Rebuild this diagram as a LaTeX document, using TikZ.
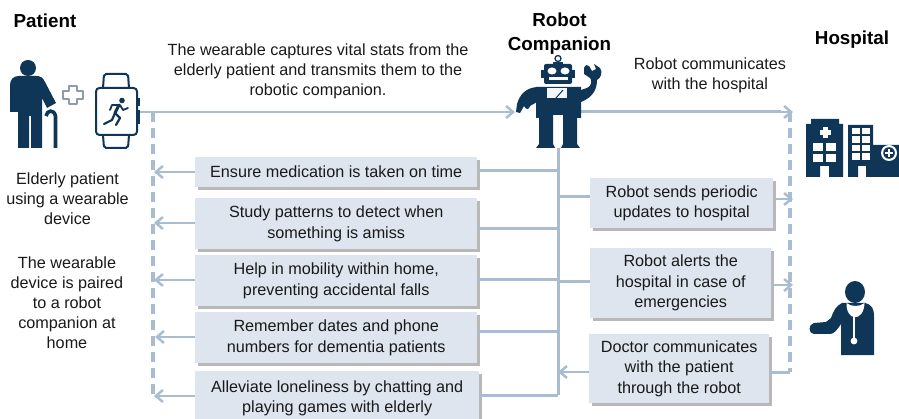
\documentclass[tikz,border=0pt]{standalone}
\usepackage{fontspec}
\setmainfont{Liberation Sans}
\usetikzlibrary{arrows.meta,shadows}
\definecolor{navy}{HTML}{0F3557}
\definecolor{lineblue}{HTML}{A9BDD2}
\definecolor{boxfill}{HTML}{DEE5EE}
\definecolor{plusgrey}{HTML}{8C9CAC}
\tikzset{
  x=1pt,y=-1pt,
  txt/.style={align=center,font=\fontsize{16.2}{20}\selectfont,text=black!90,inner sep=0pt},
  head/.style={align=center,font=\fontsize{18.8}{24}\selectfont\bfseries,text=black,inner sep=0pt},
  infobox/.style={fill=boxfill,inner sep=0pt,align=center,font=\fontsize{16.2}{20.5}\selectfont,text=black!90,
     anchor=north west,drop shadow={shadow xshift=2.5pt,shadow yshift=-2.5pt,fill=black!35,opacity=0.8}},
  conn/.style={draw=lineblue,line width=3pt},
  dashline/.style={draw=lineblue,line width=3.2pt,dash pattern=on 10pt off 6pt},
  arr/.style={draw=lineblue,line width=2.5pt,-{Straight Barb[length=7pt,width=12pt,line width=2.5pt]}},
  icon/.style={fill=navy,draw=none},
}
\newcommand{\ibox}[6]{\node[infobox,minimum width=#4pt-#2pt,minimum height=#5pt-#3pt] (#1) at (#2,#3) {#6};}
\begin{document}
\begin{tikzpicture}
\useasboundingbox (0,0) rectangle (899,419);
% headings
\node[head] (hp) at (45,21) {Patient};
\node[head] (hr) at (559.5,33.5) {Robot\\Companion};
\node[head] (hh) at (852,39.5) {Hospital};
% texts
\node[txt] (t1) at (318,71) {The wearable captures vital stats from the\\elderly patient and transmits them to the\\robotic companion.};
\node[txt] (t2) at (710,75) {Robot communicates\\with the hospital};
\node[txt] (t3) at (67.5,199) {Elderly patient\\using a wearable\\device};
\node[txt] (t4) at (67,303) {The wearable\\device is paired\\to a robot\\companion at\\home};
% coordinates
\coordinate (wr) at (140,112);
\coordinate (dl) at (153,112);
\coordinate (rl) at (515,112);
\coordinate (rr) at (578,112);
\coordinate (dr) at (790,112);
\coordinate (rb) at (558,148);
\coordinate (sb) at (558,395);
\coordinate (dbl) at (153,400);
\coordinate (dbr) at (790,372);
% connectors under boxes
\draw[arr] (wr) -- (rl);
\draw[conn] (rr) -- (781,112);
\draw[arr] (781,112) -- (793,112);
\draw[dashline] (dl) -- (dbl);
\draw[dashline] (dr) -- (dbr);
\draw[conn] (rb) -- (sb);
% boxes
\ibox{a1}{195}{157}{477}{187}{Ensure medication is taken on time}
\ibox{a2}{195}{198}{477}{249}{Study patterns to detect when\\something is amiss}
\ibox{a3}{195}{255}{477}{306}{Help in mobility within home,\\preventing accidental falls}
\ibox{a4}{195}{312}{477}{363}{Remember dates and phone\\numbers for dementia patients}
\ibox{a5}{195}{371}{479}{425}{Alleviate loneliness by chatting and\\playing games with elderly}
\ibox{b1}{590}{178}{773}{228}{Robot sends periodic\\updates to hospital}
\ibox{b2}{590}{248}{771}{318}{Robot alerts the\\hospital in case of\\emergencies}
\ibox{b3}{589}{334}{769}{403}{Doctor communicates\\with the patient\\through the robot}
% box connectors
\draw[conn] (a1.east |- 0,171) -- (558,171);
\draw[conn] (a2.east |- 0,229) -- (558,229);
\draw[conn] (a3.east |- 0,280) -- (558,280);
\draw[conn] (a4.east |- 0,332) -- (558,332);
\draw[conn,line join=round] (a5.east |- 0,395) -- (sb);
\draw[conn] (558,197) -- (b1.west |- 0,197);
\draw[conn] (558,282) -- (b2.west |- 0,282);
\draw[arr] (a1.west |- 0,172) -- (154,172);
\draw[arr] (a2.west |- 0,223) -- (154,223);
\draw[arr] (a3.west |- 0,280) -- (154,280);
\draw[arr] (a4.west |- 0,337) -- (155,337);
\draw[arr] (a5.west |- 0,396) -- (154,396);
\draw[arr] (b1.east |- 0,199) -- (793,199);
\draw[arr] (b2.east |- 0,285) -- (793,285);
\draw[conn] (b3.east |- 0,372) -- (dbr);
\draw[arr] (b3.west |- 0,372) -- (558,372);
% patient icon
\fill[navy] (28,68) circle (8);
\path[icon] (10,85) .. controls (10,79) and (14,76) .. (19,76) -- (38,76) .. controls (41,76) and (43,78) .. (45,82) -- (56,103) -- (47,108) -- (42,98) -- (42,148) -- (31,148) -- (31,116) -- (29,116) -- (29,148) -- (18,148) -- (18,112) -- (10,112) -- cycle;
\draw[navy,line width=3.6pt] (46,116) .. controls (47,110) and (54,109) .. (55.5,116) -- (55.5,148);
% plus
\draw[plusgrey,line width=2.2pt,fill=white,line join=round] (69,86) -- (77,86) -- (77,91) -- (83,91) -- (83,99) -- (77,99) -- (77,104) -- (69,104) -- (69,99) -- (63,99) -- (63,91) -- (69,91) -- cycle;
% watch
\draw[navy,line width=2pt,rounded corners=3.5pt] (96,88) rectangle (137,135);
\draw[navy,line width=2pt,rounded corners=2pt] (103,88) -- (104,74) -- (128,74) -- (129,88);
\draw[navy,line width=2pt,rounded corners=2pt] (103,135) -- (104,148) -- (128,148) -- (129,135);
\fill[navy] (137,98) rectangle (140,106);
\fill[navy] (137,110) rectangle (140,124);
\fill[navy] (122,100.5) circle (2.8);
\draw[navy,line width=3pt,line cap=round,line join=round] (119,105) -- (115,113);
\draw[navy,line width=2.2pt,line cap=round,line join=round] (115,113) -- (120,118) -- (116,125);
\draw[navy,line width=2.2pt,line cap=round,line join=round] (115,113) -- (112,120) -- (104,124);
\draw[navy,line width=1.8pt,line cap=round,line join=round] (120,105) -- (123,110) -- (128,108);
\draw[navy,line width=1.8pt,line cap=round,line join=round] (118,105) -- (112,105) -- (110,110);
% robot
\draw[navy,line width=1.3pt] (558,58.5) circle (3);
\path[icon] (553,62) rectangle (563,65);
\path[icon,rounded corners=2pt] (544,64) rectangle (572,84);
\path[icon] (541,70) rectangle (575,78);
\fill[white] (552,71) ellipse (4.5 and 3.5);
\fill[white] (565,71) ellipse (4.5 and 3.5);
\fill[white] (549,77) rectangle (568,80);
\path[icon] (536,87) -- (581,87) -- (581,118) -- (577,118) -- (577,144) -- (580,148) -- (561,148) -- (563,144) -- (563,115) -- (553,115) -- (553,144) -- (555,148) -- (536,148) -- (539,144) -- (539,118) -- (536,118) -- cycle;
\path[icon] (537,87) .. controls (526,88) and (520,94) .. (517,104) -- (516,112) -- (520,113) -- (524,106) .. controls (526,110) and (529,110) .. (530,106) -- (537,102) -- cycle;
\path[icon] (581,90) -- (587,88) .. controls (592,86) and (592,80) .. (590,78) -- (584,74) -- (584,68) .. controls (585,65) and (588,64) .. (589,66) -- (592,71) -- (596,69) -- (594,64) -- (600,68) .. controls (603,72) and (601,78) .. (597,80) .. controls (597,88) and (594,97) .. (581,102) -- cycle;
\fill[boxfill!30] (547,88) rectangle (567,98);
\draw[navy,line width=1pt] (556,98) -- (563,90);
% hospital
\path[icon] (806,177) -- (806,124) -- (811,124) -- (811,119) -- (839,119) -- (839,124) -- (843,124) -- (843,177) -- (829,177) -- (829,166) -- (820,166) -- (820,177) -- cycle;
\fill[white] (823,127) rectangle (827.5,138);
\fill[white] (820,130.5) rectangle (830.5,135);
\foreach \cx/\cy in {813/143,826/143,813/154,826/154}{\fill[white] (\cx,\cy) rectangle (\cx+10,\cy+8.5);}
\path[icon] (848,125) -- (873,125) -- (873,145) -- (899,145) -- (899,177) -- (866,177) -- (866,166) -- (858,166) -- (858,177) -- (848,177) -- cycle;
\foreach \cx in {852,862}{\foreach \cy in {128,136.5,145,153.5}{\fill[white] (\cx,\cy) rectangle (\cx+7.5,\cy+6.5);}}
\fill[white] (889,153) circle (8);
\fill[navy] (889,153) circle (5.8);
\fill[white] (887.7,149) rectangle (890.3,157);
\fill[white] (885,151.7) rectangle (893,154.3);
% doctor
\fill[navy] (855,292) ellipse (10 and 11);
\path[icon] (842,303) .. controls (836,306) and (834,310) .. (831,318) -- (826,322) -- (814,323) .. controls (808,324) and (808,334) .. (814,334) -- (830,334) .. controls (834,334) and (837,330) .. (841,324) -- (841,355) -- (874,355) -- (874,317) .. controls (874,308) and (872,305) .. (865,303) -- cycle;
\fill[white] (846.5,303) .. controls (846,322) and (864,322) .. (864.5,303) .. controls (860,307) and (851,307) .. (846.5,303) -- cycle;
\draw[white,line width=1.3pt] (854,316) -- (854,338);
\fill[white] (854,341) circle (3.4);
\end{tikzpicture}
\end{document}
